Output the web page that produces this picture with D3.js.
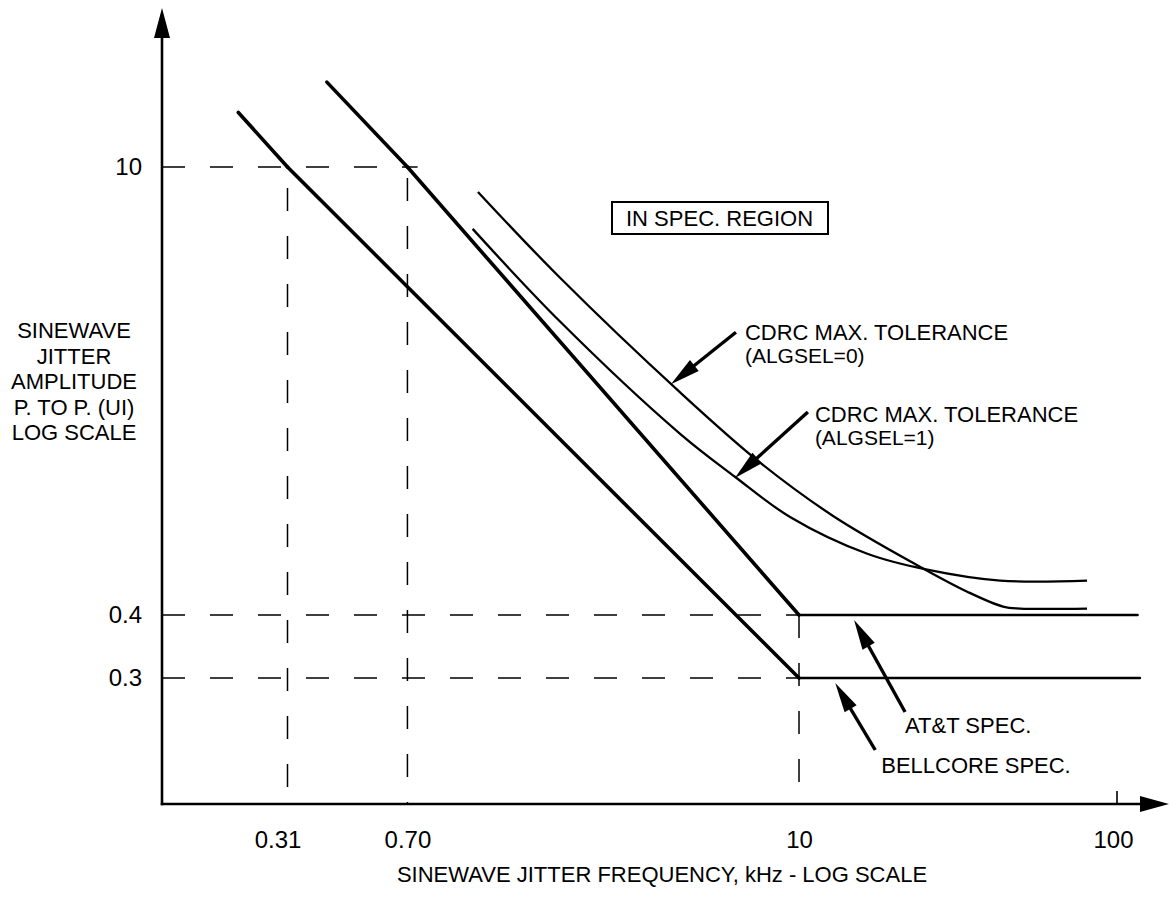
<!DOCTYPE html>
<html>
<head>
<meta charset="utf-8">
<script src="https://cdn.jsdelivr.net/npm/d3@7"></script>
<style>
  html, body { margin: 0; padding: 0; background: #fff; }
  svg { display: block; font-family: "Liberation Sans", Arial, Helvetica, sans-serif; }
</style>
</head>
<body>
<div id="chart"></div>
<script>
// tick values / labels
const xTicks = [0.31, 0.70, 10, 100];
const xTickLabels = ['0.31', '0.70', '10', '100'];
const yTicks = [10, 0.4, 0.3];
const yTickLabels = ['10', '0.4', '0.3'];

// spec masks, [freq kHz, amplitude UI p-p]
const bellcoreSpec = [[0.222, 14.8], [0.31, 10], [10, 0.3], [118, 0.3]];
const attSpec = [[0.405, 18.4], [0.70, 10], [10, 0.4], [116, 0.4]];

// measured CDRC tolerance
const cdrcAlg0 = [[1.13, 8.36], [1.97, 4.52], [4.46, 1.98], [7.57, 1.21], [12.8, 0.815],
  [24.0, 0.566], [33.8, 0.473], [43.8, 0.425], [49.6, 0.419], [80.5, 0.419]];
const cdrcAlg1 = [[1.09, 6.41], [1.97, 3.30], [4.46, 1.47], [6.47, 1.08], [9.41, 0.809],
  [16.4, 0.621], [25.3, 0.554], [42.9, 0.512], [80.5, 0.512]];

// dashed guides
const hGuideAmps = [10, 0.4, 0.3];
const hGuideToFreq = [0.75, 10, 10];
const vGuideFreqs = [0.31, 0.70, 10];
const vGuideFromAmp = [10, 10, 0.4];

// arrow targets on the curves
const noteTexts = [
  ['CDRC MAX. TOLERANCE', '(ALGSEL=0)'],
  ['CDRC MAX. TOLERANCE', '(ALGSEL=1)'],
  ['AT&T SPEC.'],
  ['BELLCORE SPEC.']
];
const noteTargets = [[4.19, 2.10], [6.47, 1.07], [14.9, 0.4], [13, 0.3]];

const width = 1172, height = 908;
const x0 = 162, y0 = 804;   // axis origin

// 图的比例尺 (drawn scale is only roughly logarithmic, so piecewise)
const x = d3.scaleLog().domain([0.31, 10, 100]).range([287.5, 799, 1117]);
const y = d3.scaleLog().domain([10, 0.4, 0.3]).range([167, 615, 678]);

const svg = d3.select('#chart').append('svg')
  .attr('width', width)
  .attr('height', height);

const defs = svg.append('defs');
defs.append('marker')
  .attr('id', 'head')
  .attr('markerUnits', 'userSpaceOnUse')
  .attr('viewBox', '-32 -8 34 16')
  .attr('markerWidth', 34)
  .attr('markerHeight', 16)
  .attr('refX', -12)
  .attr('refY', 0)
  .attr('orient', 'auto')
  .append('path')
  .attr('d', 'M0,0 L-30,-7 L-30,7 Z')
  .attr('fill', '#000');

// dashed guides
const guides = svg.append('g')
  .attr('stroke', '#000')
  .attr('stroke-width', 1.5)
  .attr('stroke-dasharray', '23 25')
  .attr('fill', 'none');

guides.selectAll('.hguide').data(hGuideAmps)
  .join('line')
  .attr('class', 'hguide')
  .attr('x1', x0)
  .attr('x2', (d, i) => x(hGuideToFreq[i]))
  .attr('y1', d => y(d))
  .attr('y2', d => y(d));

const vOffsets = [27, 37, 0];
guides.selectAll('.vguide').data(vGuideFreqs)
  .join('line')
  .attr('class', 'vguide')
  .attr('x1', d => x(d))
  .attr('x2', d => x(d))
  .attr('y1', (d, i) => y(vGuideFromAmp[i]))
  .attr('y2', y0)
  .attr('stroke-dashoffset', (d, i) => vOffsets[i]);

// axes lines + arrows
svg.append('line')
  .attr('x1', x0).attr('y1', y0 + 1.2)
  .attr('x2', x0).attr('y2', 36)
  .attr('stroke', '#000').attr('stroke-width', 2.6);
svg.append('path')
  .attr('d', `M${x0},8 L${x0 - 8},38 L${x0 + 8},38 Z`)
  .attr('fill', '#000');
svg.append('line')
  .attr('x1', x0 - 1.2).attr('y1', y0)
  .attr('x2', 1142).attr('y2', y0)
  .attr('stroke', '#000').attr('stroke-width', 2.6);
svg.append('path')
  .attr('d', `M1169,${y0} L1140,${y0 - 8} L1140,${y0 + 8} Z`)
  .attr('fill', '#000');

// tick mark at 100 (others are carried by the guides)
svg.append('line')
  .attr('x1', x(100)).attr('x2', x(100))
  .attr('y1', y0 - 13).attr('y2', y0)
  .attr('stroke', '#000').attr('stroke-width', 1.6);

// tick labels
const labelDx = [-10, 0, 0, -4];
const xAxis = svg.append('g')
  .attr('transform', `translate(0,${y0})`)
  .call(d3.axisBottom(x).tickValues(xTicks).tickFormat((d, i) => xTickLabels[i]).tickSize(0).tickPadding(27));
xAxis.select('.domain').remove();
xAxis.attr('font-size', 24).attr('font-family', null);
xAxis.selectAll('text').attr('fill', '#000').attr('dx', (d, i) => labelDx[i]);

const yAxis = svg.append('g')
  .attr('transform', `translate(${x0},0)`)
  .call(d3.axisLeft(y).tickValues(yTicks).tickFormat((d, i) => yTickLabels[i]).tickSize(0).tickPadding(20));
yAxis.select('.domain').remove();
yAxis.attr('font-size', 24).attr('font-family', null);
yAxis.selectAll('text').attr('fill', '#000');

// spec lines: sloped parts heavier than the flat parts
const specSegs = [bellcoreSpec, attSpec].flatMap(s => d3.pairs(s));
svg.selectAll('.spec').data(specSegs)
  .join('line')
  .attr('class', 'spec')
  .attr('x1', d => x(d[0][0])).attr('y1', d => y(d[0][1]))
  .attr('x2', d => x(d[1][0])).attr('y2', d => y(d[1][1]))
  .attr('stroke', '#000')
  .attr('stroke-width', d => d[0][1] === d[1][1] ? 2.6 : 3.6)
  .attr('stroke-linecap', 'round');

// tolerance curves
const smooth = d3.line().x(d => x(d[0])).y(d => y(d[1])).curve(d3.curveCatmullRom.alpha(0.5));
svg.selectAll('.cdrc').data([cdrcAlg0, cdrcAlg1])
  .join('path')
  .attr('class', 'cdrc')
  .attr('d', smooth)
  .attr('fill', 'none')
  .attr('stroke', '#000')
  .attr('stroke-width', 2.3);

// annotations: tail offset, text offset, sub-text offset (px, from arrow tip)
const noteLayout = [
  { nudge: [0, 0], tail: [65, -52], text: [74, -44], sub: [74, -21] },
  { nudge: [0, 0], tail: [73, -66], text: [80, -56], sub: [80, -33] },
  { nudge: [0, 5], tail: [51, 92], text: [51, 113] },
  { nudge: [0, 5], tail: [40, 67], text: [46, 90] }
];

const notes = svg.append('g');
noteTargets.forEach((t, i) => {
  const L = noteLayout[i];
  const tx = x(t[0]) + L.nudge[0], ty = y(t[1]) + L.nudge[1];
  const ang = Math.atan2(-L.tail[1], -L.tail[0]);
  notes.append('line')
    .attr('x1', tx + L.tail[0]).attr('y1', ty + L.tail[1])
    .attr('x2', tx - 12 * Math.cos(ang)).attr('y2', ty - 12 * Math.sin(ang))
    .attr('stroke', '#000').attr('stroke-width', 3.4)
    .attr('marker-end', 'url(#head)');
  notes.append('text')
    .attr('x', tx + L.text[0]).attr('y', ty + L.text[1])
    .attr('font-size', 22)
    .text(noteTexts[i][0]);
  if (noteTexts[i][1]) {
    notes.append('text')
      .attr('x', tx + L.sub[0]).attr('y', ty + L.sub[1])
      .attr('font-size', 21)
      .text(noteTexts[i][1]);
  }
});

// in-spec box
svg.append('rect')
  .attr('x', 612).attr('y', 202)
  .attr('width', 216).attr('height', 32)
  .attr('fill', 'none').attr('stroke', '#000').attr('stroke-width', 2);
svg.append('text')
  .attr('x', 626).attr('y', 226)
  .attr('font-size', 22)
  .text('IN SPEC. REGION');

// axis titles
svg.append('text')
  .attr('x', 662).attr('y', 882)
  .attr('text-anchor', 'middle')
  .attr('font-size', 22)
  .text('SINEWAVE JITTER FREQUENCY, kHz - LOG SCALE');

const yTitle = ['SINEWAVE', 'JITTER', 'AMPLITUDE', 'P. TO P. (UI)', 'LOG SCALE'];
svg.append('g').selectAll('text').data(yTitle)
  .join('text')
  .attr('x', 74)
  .attr('y', (d, i) => 338 + i * 25.5)
  .attr('text-anchor', 'middle')
  .attr('font-size', 22)
  .text(d => d);
</script>
</body>
</html>
